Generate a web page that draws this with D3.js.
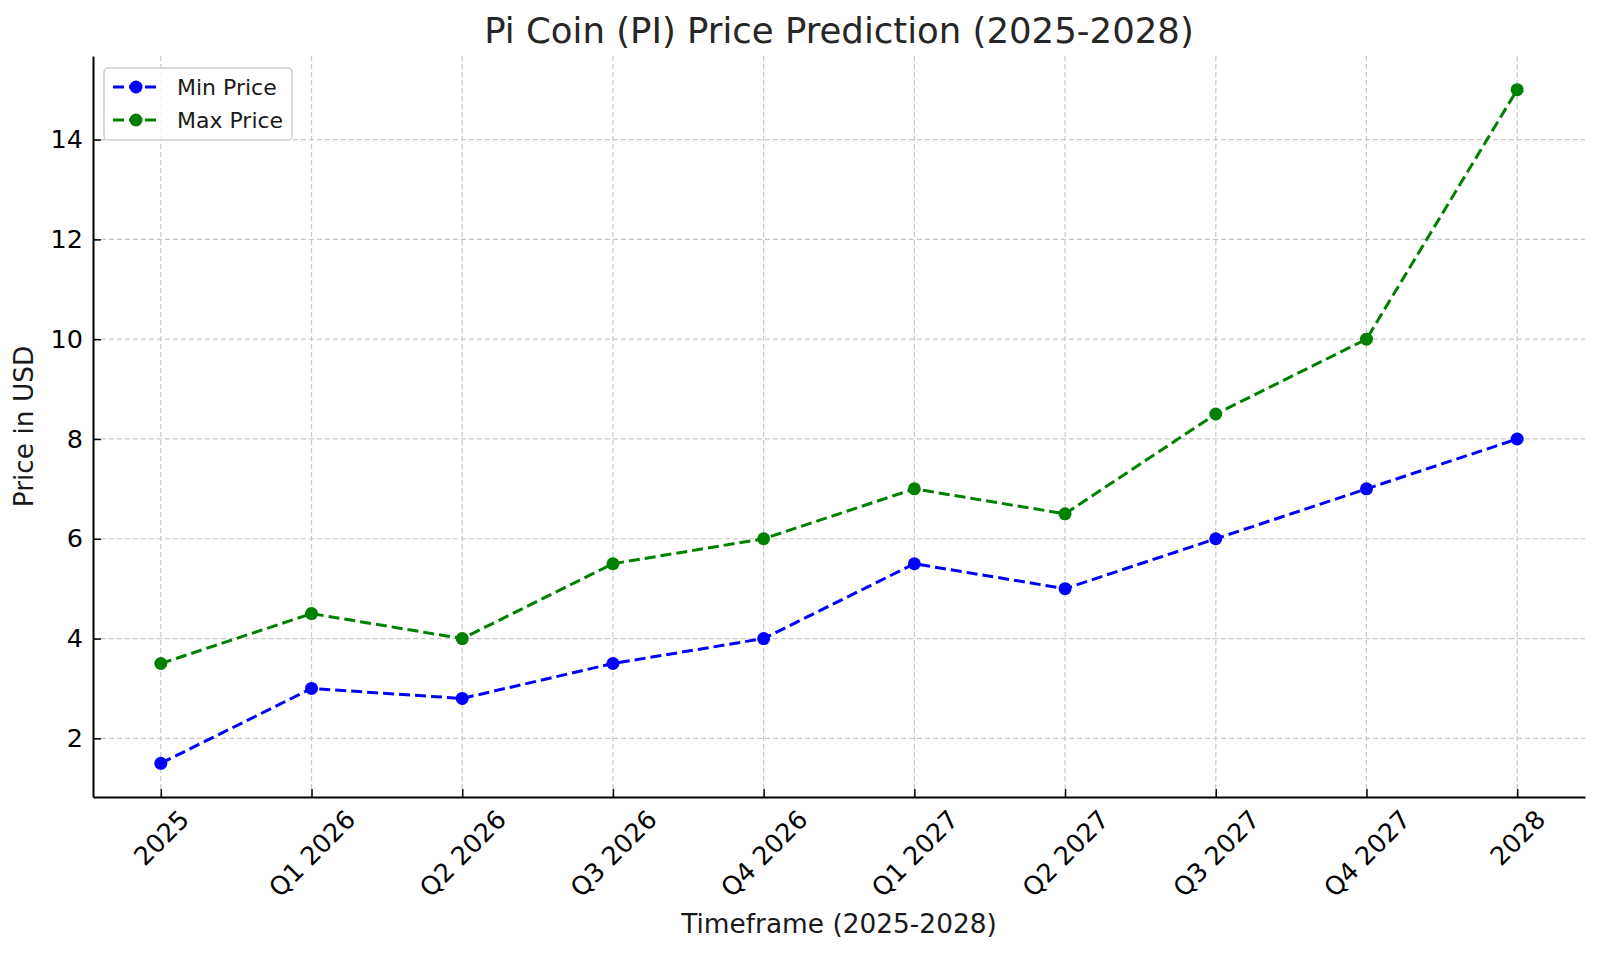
<!DOCTYPE html>
<html>
<head>
<meta charset="utf-8">
<script src="https://cdn.jsdelivr.net/npm/d3@7"></script>
<style>
  html, body { margin: 0; padding: 0; background: #fff; }
  svg text { font-family: "DejaVu Sans", "Bitstream Vera Sans", sans-serif; }
</style>
</head>
<body>
<div id="chart"></div>
<script>
const timeframes = ["2025", "Q1 2026", "Q2 2026", "Q3 2026", "Q4 2026", "Q1 2027", "Q2 2027", "Q3 2027", "Q4 2027", "2028"];
const minPrice = [1.5, 3, 2.8, 3.5, 4, 5.5, 5, 6, 7, 8];
const maxPrice = [3.5, 4.5, 4, 5.5, 6, 7, 6.5, 8.5, 10, 15];
const yTicks = [2, 4, 6, 8, 10, 12, 14];

const series = [
  { name: "Min Price", values: minPrice, color: "#0000ff" },
  { name: "Max Price", values: maxPrice, color: "#008000" },
];

const FONT = "DejaVu Sans";
const W = 1600, H = 956;
const margin = { top: 56, right: 15, bottom: 159, left: 93 };
const w = W - margin.left - margin.right;
const h = H - margin.top - margin.bottom;

const svg = d3.select("#chart").append("svg").attr("width", W).attr("height", H)
  .attr("font-family", FONT).style("display", "block");
const g = svg.append("g").attr("transform", `translate(${margin.left},${margin.top})`);

const x = d3.scalePoint().domain(timeframes).range([0, w]).padding(0.45);
// matplotlib-style 5% margins on the data range
const allVals = minPrice.concat(maxPrice);
const lo = d3.min(allVals), hi = d3.max(allVals), pad = (hi - lo) * 0.05;
const y = d3.scaleLinear().domain([lo - pad, hi + pad]).range([h, 0]);

/* grid */
const grid = g.append("g");
grid.selectAll(".vg").data(timeframes).join("line")
  .attr("x1", d => x(d)).attr("x2", d => x(d)).attr("y1", 0).attr("y2", h)
  .attr("stroke", "#c8c8c8").attr("stroke-width", 1.2).attr("stroke-dasharray", "5,3");
grid.selectAll(".hg").data(yTicks).join("line")
  .attr("x1", 0).attr("x2", w).attr("y1", d => y(d)).attr("y2", d => y(d))
  .attr("stroke", "#c8c8c8").attr("stroke-width", 1.2).attr("stroke-dasharray", "5,3");

/* axes */
const xAxis = g.append("g").attr("transform", `translate(0,${h})`)
  .call(d3.axisBottom(x).tickSizeInner(-8).tickSizeOuter(0).tickPadding(12))
  .attr("font-family", FONT);
xAxis.select(".domain").attr("stroke", "#000").attr("stroke-width", 2);
xAxis.selectAll(".tick line").attr("stroke", "#000").attr("stroke-width", 1.5);
xAxis.selectAll(".tick text")
  .attr("font-size", 25.5).attr("fill", "#000")
  .attr("text-anchor", "middle").attr("dominant-baseline", "central")
  .attr("dy", null)
  .each(function () {
    const t = d3.select(this);
    const tw = this.getComputedTextLength();
    const th = 25.5 * 0.75;
    const half = (tw + th) / (2 * Math.SQRT2);
    t.attr("y", 11 + half).attr("x", 0)
      .attr("transform", `rotate(-45,0,${11 + half})`);
  });

const yAxis = g.append("g")
  .call(d3.axisLeft(y).tickValues(yTicks).tickSizeInner(-8).tickSizeOuter(0).tickPadding(10))
  .attr("font-family", FONT);
yAxis.select(".domain").attr("stroke", "#000").attr("stroke-width", 2);
yAxis.selectAll(".tick line").attr("stroke", "#000").attr("stroke-width", 1.5);
yAxis.selectAll(".tick text").attr("font-size", 25.5).attr("fill", "#000");

/* lines */
const line = d3.line().x((d, i) => x(timeframes[i])).y(d => y(d));
series.forEach(s => {
  g.append("path").datum(s.values)
    .attr("d", line).attr("fill", "none")
    .attr("stroke", s.color).attr("stroke-width", 3)
    .attr("stroke-dasharray", "11,5");
  g.selectAll(null).data(s.values).join("circle")
    .attr("cx", (d, i) => x(timeframes[i])).attr("cy", d => y(d))
    .attr("r", 6.5).attr("fill", s.color);
});

/* labels */
svg.append("text").attr("x", margin.left + w / 2).attr("y", 43)
  .attr("text-anchor", "middle").attr("font-size", 35.5).attr("fill", "#262626")
  .text("Pi Coin (PI) Price Prediction (2025-2028)");
svg.append("text").attr("x", margin.left + w / 2).attr("y", 933)
  .attr("text-anchor", "middle").attr("font-size", 26.4).attr("fill", "#1a1a1a")
  .text("Timeframe (2025-2028)");
svg.append("text").attr("transform", `translate(33,${margin.top + h / 2}) rotate(-90)`)
  .attr("text-anchor", "middle").attr("font-size", 26.4).attr("fill", "#1a1a1a")
  .text("Price in USD");

/* legend */
const lg = svg.append("g").attr("transform", "translate(104,68)");
lg.append("rect").attr("width", 188).attr("height", 72).attr("rx", 4)
  .attr("fill", "#fff").attr("fill-opacity", 0.8)
  .attr("stroke", "#d0d0d0").attr("stroke-width", 1.5);
series.forEach((s, i) => {
  const ry = 19 + i * 33;
  lg.append("line").attr("x1", 9).attr("x2", 53).attr("y1", ry).attr("y2", ry)
    .attr("stroke", s.color).attr("stroke-width", 3).attr("stroke-dasharray", "11,5");
  lg.append("circle").attr("cx", 32).attr("cy", ry).attr("r", 6.5).attr("fill", s.color);
  lg.append("text").attr("x", 73).attr("y", ry).attr("dy", "0.36em")
    .attr("font-size", 22).attr("fill", "#1a1a1a").text(s.name);
});
</script>
</body>
</html>
